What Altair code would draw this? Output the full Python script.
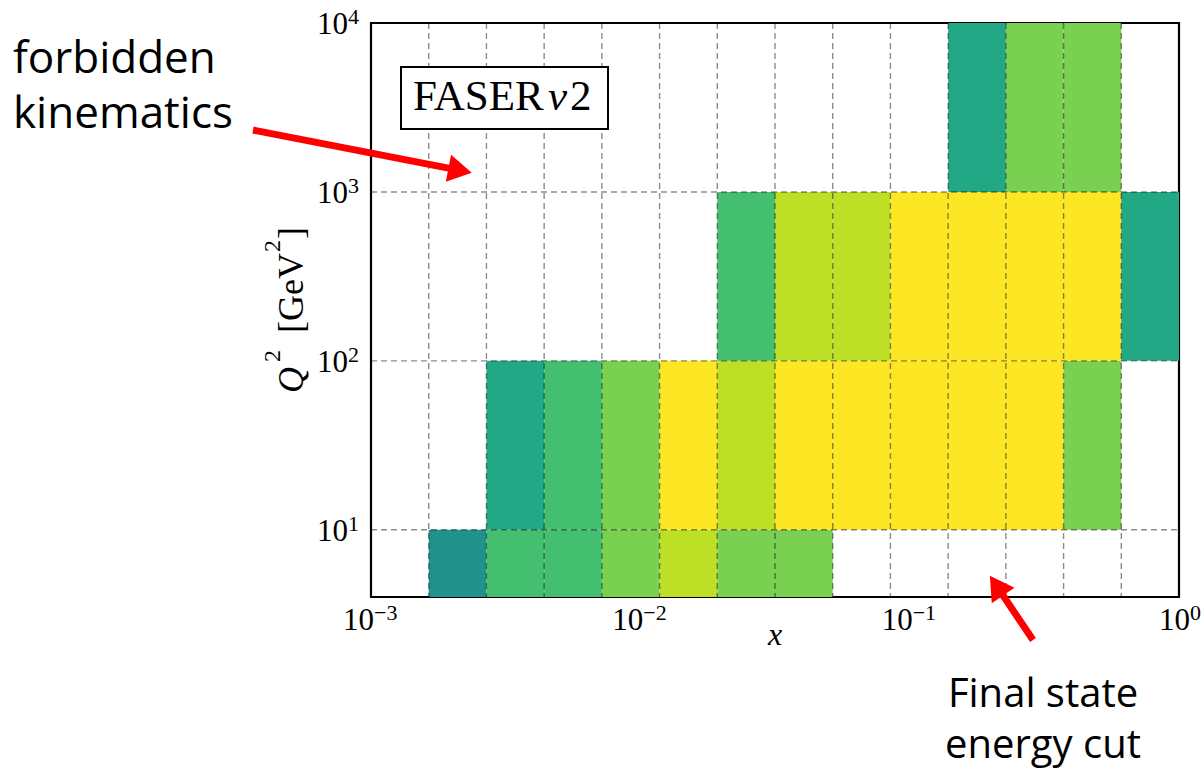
import altair as alt
import pandas as pd

# ---------------- data ----------------
# bin edges in x (14 log-spaced bins from 1e-3 to 1)
x_edges = [0.001, 0.0016379, 0.0026827, 0.0043940, 0.0071969, 0.011788, 0.019307,
           0.031623, 0.051795, 0.084834, 0.13895, 0.22758, 0.37276, 0.61054, 1.0]
# bin edges in Q^2 [GeV^2]
q2_edges = [4, 10, 100, 1000, 10000]
# colour level per cell (0 = empty), rows = Q^2 bins (low -> high), cols = x bins
levels = [
    [0, 1, 3, 3, 4, 5, 4, 4, 0, 0, 0, 0, 0, 0],
    [0, 0, 2, 3, 4, 6, 5, 6, 6, 6, 6, 6, 4, 0],
    [0, 0, 0, 0, 0, 0, 3, 5, 5, 6, 6, 6, 6, 2],
    [0, 0, 0, 0, 0, 0, 0, 0, 0, 0, 2, 4, 4, 0],
]
level_values = [1, 2, 3, 4, 5, 6]
level_colors = ["#21918c", "#22a884", "#44bf70", "#7ad151", "#bddf26", "#fde725"]

x_major = [0.01, 0.1]
x_label_vals = [0.001, 0.01, 0.1, 1.0]
x_label_exp = ["−3", "−2", "−1", "0"]
x_minor = [m * 10.0 ** e for e in (-3, -2, -1) for m in range(2, 10)]
y_major = [10, 100, 1000]
y_label_vals = [10, 100, 1000, 10000]
y_label_exp = ["1", "2", "3", "4"]
y_minor = [m * 10 ** e for e in (0, 1, 2, 3) for m in range(2, 10) if m * 10 ** e > 4]

# ---------------- layout ----------------
W, H = 808, 574
SERIF = "Liberation Serif"
SANS = "Open Sans"

xs = alt.Scale(type="log", domain=[0.001, 1], nice=False)
ys = alt.Scale(type="log", domain=[4, 10000], nice=False)

# inward ticks on both sides of each axis, drawn as axis grid lines whose dash
# pattern leaves only a short piece at each end (long for major, short for minor)
x_major_test = " || ".join(f"datum.value == {v}" for v in x_major)
y_major_test = " || ".join(f"datum.value == {v}" for v in y_major)

x_tick_axis = alt.Axis(
    values=x_major + x_minor, labels=False, ticks=False, domain=False, title=None,
    grid=True, gridColor="black", gridOpacity=1, gridWidth=1.6, zindex=1,
    gridDash={"condition": {"test": x_major_test, "value": [25, H - 50]}, "value": [12, H - 24]},
)
y_tick_axis = alt.Axis(
    values=y_major + y_minor, labels=False, ticks=False, domain=False, title=None,
    grid=True, gridColor="black", gridOpacity=1, gridWidth=1.6, zindex=1,
    gridDash={"condition": {"test": y_major_test, "value": [25, W - 50]}, "value": [12, W - 24]},
)

rows = []
for i in range(len(q2_edges) - 1):
    for j in range(len(x_edges) - 1):
        if levels[i][j] > 0:
            rows.append({"x0": x_edges[j], "x1": x_edges[j + 1],
                         "y0": q2_edges[i], "y1": q2_edges[i + 1],
                         "level": levels[i][j]})
cells_df = pd.DataFrame(rows)

cells = alt.Chart(cells_df).mark_rect().encode(
    x=alt.X("x0:Q", scale=xs, axis=x_tick_axis),
    x2="x1:Q",
    y=alt.Y("y0:Q", scale=ys, axis=y_tick_axis),
    y2="y1:Q",
    color=alt.Color("level:O", scale=alt.Scale(domain=level_values, range=level_colors), legend=None),
)

grid_style = dict(color="black", opacity=0.45, strokeWidth=1.4, strokeDash=[6, 4])
vgrid = alt.Chart(pd.DataFrame({"gx": x_edges[1:-1]})).mark_rule(**grid_style).encode(
    x=alt.X("gx:Q", scale=xs, axis=None), y=alt.value(0), y2=alt.value(H))
hgrid = alt.Chart(pd.DataFrame({"gy": q2_edges[1:-1]})).mark_rule(**grid_style).encode(
    y=alt.Y("gy:Q", scale=ys, axis=None), x=alt.value(0), x2=alt.value(W))

# tick labels (10 + superscript exponent)
xl = pd.DataFrame({"v": x_label_vals, "e": x_label_exp})
xl_neg = xl[xl["v"] < 1]
xl_zero = xl[xl["v"] >= 1]
lab = []
for dd, off in ((xl_neg, 3), (xl_zero, 11)):
    lab.append(alt.Chart(dd).mark_text(text="10", font=SERIF, fontSize=31, align="right",
                                       baseline="alphabetic", dx=off, color="black").encode(
        x=alt.X("v:Q", scale=xs, axis=None), y=alt.value(H + 33)))
    lab.append(alt.Chart(dd).mark_text(font=SERIF, fontSize=22, align="left",
                                       baseline="alphabetic", dx=off, color="black").encode(
        x=alt.X("v:Q", scale=xs, axis=None), y=alt.value(H + 23), text="e:N"))

yl = pd.DataFrame({"w": y_label_vals, "e": y_label_exp})
lab.append(alt.Chart(yl).mark_text(text="10", font=SERIF, fontSize=31, align="right",
                                   baseline="alphabetic", dx=-23, dy=11, color="black").encode(
    y=alt.Y("w:Q", scale=ys, axis=None), x=alt.value(0)))
lab.append(alt.Chart(yl).mark_text(font=SERIF, fontSize=22, align="left",
                                   baseline="alphabetic", dx=-23, dy=1, color="black").encode(
    y=alt.Y("w:Q", scale=ys, axis=None), x=alt.value(0), text="e:N"))

one = pd.DataFrame({"a": [0]})


def txt(s, x, y, **kw):
    return alt.Chart(one).mark_text(text=s, color="black", **kw).encode(x=alt.value(x), y=alt.value(y))


# axis titles
titles = [
    txt("x", W / 2, H + 48, font=SERIF, fontSize=32, fontStyle="italic", align="center", baseline="alphabetic"),
    txt("Q", -68, 370, font=SERIF, fontSize=36, fontStyle="italic", angle=270, align="left", baseline="alphabetic"),
    txt("2", -91, 339, font=SERIF, fontSize=24, angle=270, align="left", baseline="alphabetic"),
    txt("[GeV", -68, 310, font=SERIF, fontSize=36, angle=270, align="left", baseline="alphabetic"),
    txt("2", -91, 229, font=SERIF, fontSize=24, angle=270, align="left", baseline="alphabetic"),
    txt("]", -68, 216, font=SERIF, fontSize=36, angle=270, align="left", baseline="alphabetic"),
]

# FASERnu2 box
box = alt.Chart(one).mark_rect(fill="white", stroke="black", strokeWidth=2).encode(
    x=alt.value(30), x2=alt.value(237), y=alt.value(44), y2=alt.value(106))
box_text = [
    txt("FASER", 42, 87, font=SERIF, fontSize=43, align="left", baseline="alphabetic"),
    txt("ν", 177, 87, font=SERIF, fontSize=43, fontStyle="italic", align="left", baseline="alphabetic"),
    txt("2", 199, 87, font=SERIF, fontSize=43, align="left", baseline="alphabetic"),
]

# annotations
ann = [
    txt("forbidden", -358, 50, font=SANS, fontSize=44, align="left", baseline="alphabetic"),
    txt("kinematics", -358, 105, font=SANS, fontSize=44, align="left", baseline="alphabetic"),
    txt("Final state", 672, 684, font=SANS, fontSize=40, align="center", baseline="alphabetic"),
    txt("energy cut", 672, 735, font=SANS, fontSize=40, align="center", baseline="alphabetic"),
]


def arrow(tx, ty, hx, hy, angle):
    ddx, ddy = hx - tx, hy - ty
    L = (ddx * ddx + ddy * ddy) ** 0.5
    ux, uy = ddx / L, ddy / L
    shaft = alt.Chart(one).mark_rule(color="#ff0000", strokeWidth=7, strokeCap="butt").encode(
        x=alt.value(tx), y=alt.value(ty), x2=alt.value(hx - 16 * ux), y2=alt.value(hy - 16 * uy))
    head = alt.Chart(one).mark_point(shape="triangle", filled=True, color="#ff0000", opacity=1,
                                     size=750, angle=angle).encode(
        x=alt.value(hx - 12 * ux), y=alt.value(hy - 12 * uy))
    return [shaft, head]


arrows = arrow(-118, 107, 97, 149, 101) + arrow(662, 617, 621, 556, 326)

chart = alt.layer(
    cells, vgrid, hgrid, *lab, *titles, box, *box_text, *ann, *arrows
).properties(
    width=W, height=H,
    padding={"left": 371, "top": 23, "right": 24, "bottom": 178},
    autosize=alt.AutoSizeParams(type="none"),
    background="white",
).configure_view(stroke="black", strokeWidth=2.2)

chart.save("out.html", embed_options={"renderer": "svg", "actions": False})
